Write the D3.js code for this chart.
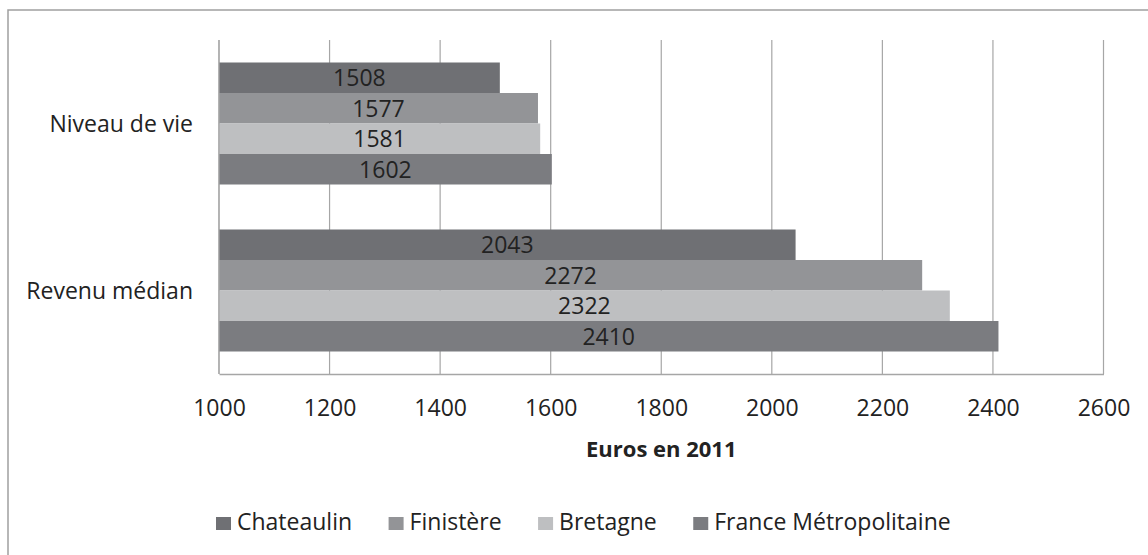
<!DOCTYPE html>
<html>
<head>
<meta charset="utf-8">
<script src="https://cdn.jsdelivr.net/npm/d3@7"></script>
<style>
  html, body { margin: 0; padding: 0; background: #fff; }
  svg { display: block; font-family: "Open Sans", "Liberation Sans", Arial, sans-serif; }
</style>
</head>
<body>
<svg id="chart" width="1148" height="555"></svg>
<script>
// Monthly income in euros (2011), by indicator and area
const categories = ["Niveau de vie", "Revenu médian"];
const seriesNames = ["Chateaulin", "Finistère", "Bretagne", "France Métropolitaine"];
const chateaulin = [1508, 2043];
const finistere = [1577, 2272];
const bretagne = [1581, 2322];
const franceMetro = [1602, 2410];
const xTicks = [1000, 1200, 1400, 1600, 1800, 2000, 2200, 2400, 2600];
const axisTitle = "Euros en 2011";

const seriesValues = [chateaulin, finistere, bretagne, franceMetro];
const colors = ["#6f7074", "#939497", "#bebfc1", "#7b7c80"];
const fontFamily = "'Open Sans', 'Liberation Sans', Arial, sans-serif";
const textColor = "#222222";

const svg = d3.select("#chart");

// chart frame
svg.append("path")
  .attr("d", "M8,560 L8,10 L1160,10")
  .attr("fill", "none")
  .attr("stroke", "#a0a0a0")
  .attr("stroke-width", 1.5);

const plot = { left: 219, right: 1103.5, top: 40, bottom: 374 };

const x = d3.scaleLinear().domain([1000, 2600]).range([plot.left, plot.right]);
const y = d3.scaleBand().domain(categories).range([plot.top, plot.bottom]).padding(0);
const ySeries = d3.scaleBand().domain(seriesNames)
  .range([22.5, y.bandwidth() - 22.5]).padding(0);

// vertical gridlines
svg.append("g")
  .selectAll("line")
  .data(xTicks)
  .join("line")
  .attr("x1", d => x(d)).attr("x2", d => x(d))
  .attr("y1", plot.top).attr("y2", plot.bottom)
  .attr("stroke", "#a6a6a6")
  .attr("stroke-width", 1.2);

// bars
const rows = [];
categories.forEach((c, ci) => {
  seriesNames.forEach((s, si) => {
    rows.push({ cat: c, series: s, value: seriesValues[si][ci], color: colors[si] });
  });
});

const barG = svg.append("g");
barG.selectAll("rect")
  .data(rows)
  .join("rect")
  .attr("x", x(1000))
  .attr("y", d => y(d.cat) + ySeries(d.series))
  .attr("width", d => x(d.value) - x(1000))
  .attr("height", ySeries.bandwidth())
  .attr("fill", d => d.color);

// value labels centered in each bar
barG.selectAll("text")
  .data(rows)
  .join("text")
  .attr("x", d => (x(1000) + x(d.value)) / 2)
  .attr("y", d => y(d.cat) + ySeries(d.series) + ySeries.bandwidth() / 2)
  .attr("dy", "0.36em")
  .attr("text-anchor", "middle")
  .attr("font-size", 23)
  .attr("fill", textColor)
  .text(d => d.value);

// left axis line
svg.append("line")
  .attr("x1", plot.left).attr("x2", plot.left)
  .attr("y1", plot.top).attr("y2", plot.bottom)
  .attr("stroke", "#a6a6a6").attr("stroke-width", 1.2);

// bottom axis
const xAxis = d3.axisBottom(x).tickValues(xTicks).tickSize(0).tickPadding(26)
  .tickFormat(d3.format("d"));
const gx = svg.append("g")
  .attr("transform", `translate(0,${plot.bottom})`)
  .call(xAxis);
gx.select(".domain").attr("stroke", "#a6a6a6").attr("stroke-width", 1.5);
gx.selectAll("text")
  .attr("font-size", 23)
  .attr("font-family", fontFamily)
  .attr("fill", textColor);

// category labels
svg.append("g")
  .selectAll("text")
  .data(categories)
  .join("text")
  .attr("x", 193)
  .attr("y", d => y(d) + y.bandwidth() / 2)
  .attr("dy", "0.36em")
  .attr("text-anchor", "end")
  .attr("font-size", 23)
  .attr("fill", textColor)
  .text(d => d);

// axis title
svg.append("text")
  .attr("x", (plot.left + plot.right) / 2)
  .attr("y", 456.5)
  .attr("text-anchor", "middle")
  .attr("font-size", 22)
  .attr("font-weight", "bold")
  .attr("fill", textColor)
  .text(axisTitle);

// legend
const legend = svg.append("g");
let lx = 216;
seriesNames.forEach((s, i) => {
  legend.append("rect")
    .attr("x", lx).attr("y", 517)
    .attr("width", 15).attr("height", 13)
    .attr("fill", colors[i]);
  const t = legend.append("text")
    .attr("x", lx + 21).attr("y", 530)
    .attr("font-size", 23)
    .attr("fill", textColor)
    .text(s);
  lx += 21 + t.node().getComputedTextLength() + 36.5;
});
</script>
</body>
</html>
